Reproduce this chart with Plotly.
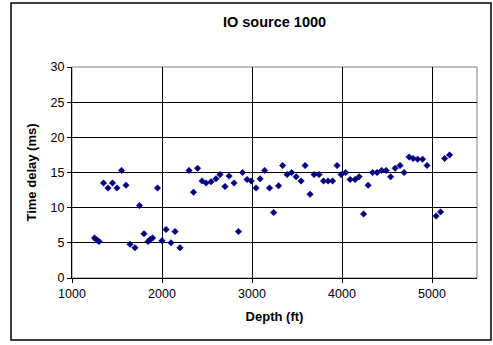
import plotly.graph_objects as go

depth_ft = [1250, 1275, 1300, 1350, 1400, 1450, 1500, 1550, 1600, 1645, 1700, 1750,
            1800, 1845, 1870, 1895, 1950, 2000, 2045, 2100, 2145, 2200, 2300, 2350,
            2395, 2445, 2490, 2545, 2600, 2645, 2700, 2745, 2800, 2850, 2895, 2945,
            2990, 3045, 3090, 3140, 3195, 3240, 3295, 3340, 3390, 3440, 3490, 3545,
            3590, 3645, 3690, 3745, 3795, 3845, 3895, 3945, 3990, 4040, 4090, 4145,
            4190, 4240, 4290, 4340, 4390, 4440, 4490, 4540, 4590, 4645, 4690, 4745,
            4790, 4840, 4895, 4945, 5045, 5095, 5140, 5195]
time_delay_ms = [5.7, 5.4, 5.2, 13.5, 12.8, 13.5, 12.8, 15.3, 13.2, 4.8, 4.3, 10.3,
                 6.3, 5.2, 5.5, 5.7, 12.8, 5.3, 6.9, 5.0, 6.6, 4.3, 15.3, 12.2,
                 15.6, 13.8, 13.5, 13.7, 14.1, 14.7, 13.0, 14.5, 13.5, 6.6, 15.0, 14.0,
                 13.8, 12.8, 14.1, 15.3, 12.8, 9.3, 13.1, 16.0, 14.7, 15.0, 14.4, 13.8,
                 16.0, 11.9, 14.7, 14.7, 13.8, 13.8, 13.8, 16.0, 14.7, 15.0, 14.0, 14.0,
                 14.4, 9.1, 13.2, 15.0, 15.0, 15.3, 15.3, 14.4, 15.6, 16.0, 15.0, 17.2,
                 17.0, 16.9, 16.9, 16.0, 8.8, 9.4, 17.0, 17.5]

title_text = "IO source 1000"
x_title = "Depth (ft)"
y_title = "Time delay (ms)"
x_ticks = [1000, 2000, 3000, 4000, 5000]
y_ticks = [0, 5, 10, 15, 20, 25, 30]

FONT = "Liberation Sans, Arial, sans-serif"

fig = go.Figure(go.Scatter(
    x=depth_ft, y=time_delay_ms, mode="markers",
    marker=dict(symbol="diamond", size=5, color="#000080",
                line=dict(width=0.5, color="#000080")),
    showlegend=False))

fig.update_layout(
    width=493, height=345,
    margin=dict(l=72, r=16, t=67, b=67),
    paper_bgcolor="white", plot_bgcolor="white",
    font=dict(family=FONT, color="black", size=12.5),
    title=dict(text="<b>" + title_text + "</b>", x=0.5, xref="paper",
               xanchor="center", y=1 - 22 / 345, yanchor="middle",
               font=dict(size=14.5, family=FONT, color="black")),
    shapes=[
        dict(type="rect", xref="paper", yref="paper",
             x0=-61 / 405, x1=419 / 405, y0=-62 / 211, y1=275 / 211,
             line=dict(color="black", width=1.5), layer="below"),
        dict(type="rect", xref="paper", yref="paper",
             x0=0, x1=1, y0=0, y1=1,
             line=dict(color="#808080", width=1), layer="below"),
    ],
)

fig.update_xaxes(
    range=[1000, 5500], tickvals=x_ticks, ticktext=[str(v) for v in x_ticks],
    showgrid=True, gridcolor="black", gridwidth=1,
    showline=True, linecolor="black", linewidth=1, mirror=False,
    ticks="outside", ticklen=4, tickcolor="black", tickwidth=1,
    zeroline=False,
    title=dict(text="<b>" + x_title + "</b>", font=dict(size=13, family=FONT), standoff=11),
)
fig.update_yaxes(
    range=[0, 30], tickvals=y_ticks, ticktext=[str(v) for v in y_ticks],
    showgrid=True, gridcolor="black", gridwidth=1,
    showline=True, linecolor="black", linewidth=1, mirror=False,
    ticks="outside", ticklen=4, tickcolor="black", tickwidth=1,
    zeroline=False,
    title=dict(text="<b>" + y_title + "</b>", font=dict(size=13, family=FONT), standoff=11),
)

fig.write_html("out.html")
